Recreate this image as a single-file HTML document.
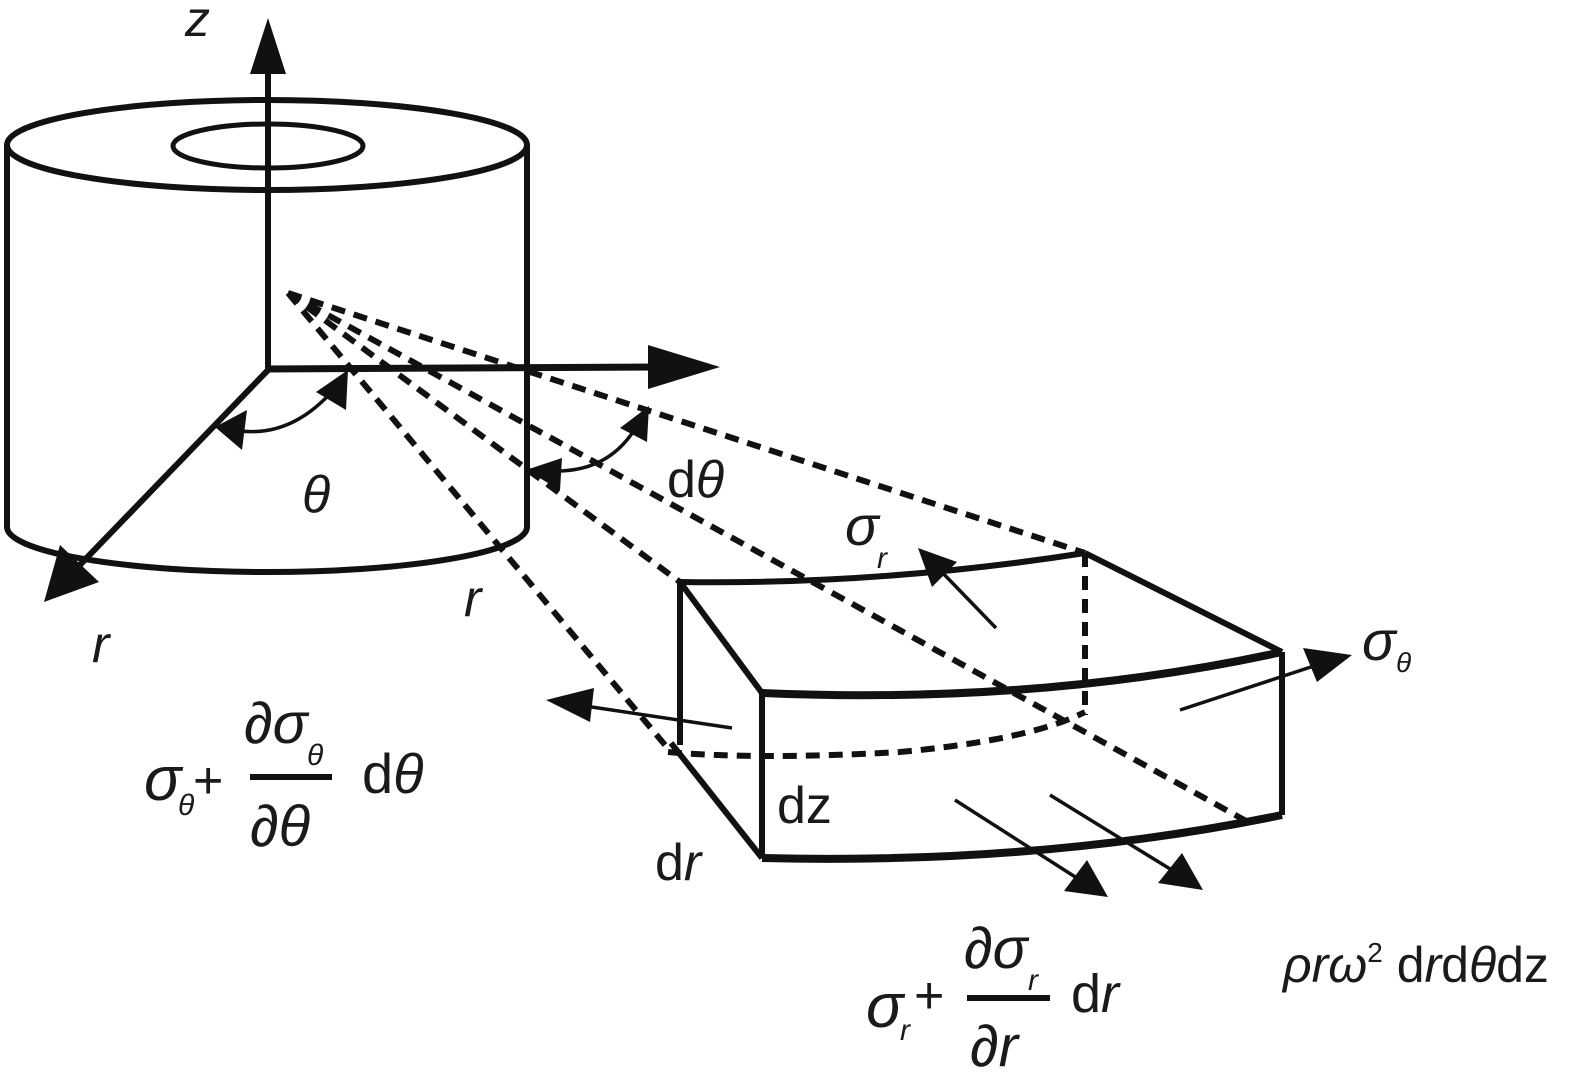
<!DOCTYPE html>
<html><head><meta charset="utf-8"><style>
html,body{margin:0;padding:0;background:#fff;}
svg{display:block;}
text{font-family:"Liberation Sans",sans-serif;fill:#1a1a1a;}
.i{font-style:italic;}
</style></head><body>
<svg width="1583" height="1075" viewBox="0 0 1583 1075" xmlns="http://www.w3.org/2000/svg">
<g fill="none" stroke="#111" stroke-width="6">
<ellipse cx="267" cy="145" rx="260" ry="45"/>
<ellipse cx="268" cy="146" rx="95" ry="22" stroke-width="5"/>
<line x1="7" y1="145" x2="7" y2="527"/>
<line x1="527" y1="145" x2="527" y2="527"/>
<path d="M7 527 A260 45 0 0 0 527 527"/>
<line x1="268" y1="372" x2="268" y2="70"/>
<line x1="265" y1="369" x2="660" y2="367" stroke-width="7"/>
<line x1="270" y1="368" x2="75" y2="570"/>
</g>
<polygon points="268,18 250,74 286,74" fill="#111"/>
<polygon points="720,367 648,345 648,389" fill="#111"/>
<polygon points="44,602 60,545 99,582" fill="#111"/>
<g fill="none" stroke="#111" stroke-width="6" stroke-dasharray="14,9">
<line x1="288" y1="293" x2="1085" y2="553"/>
<line x1="288" y1="293" x2="1248" y2="822"/>
<line x1="288" y1="293" x2="680" y2="582"/>
<line x1="288" y1="293" x2="665" y2="745"/>
<line x1="1085" y1="553" x2="1085" y2="715"/>
<path d="M668 752 Q760 760 900 752 Q1030 740 1085 712"/>
</g>
<g fill="none" stroke="#111" stroke-width="3.5">
<path d="M225 428 Q290 445 340 382"/>
<path d="M540 470 Q610 478 640 420"/>
</g>
<polygon points="215,427 247,410 242,450" fill="#111"/>
<polygon points="348,370 346,410 316,392" fill="#111"/>
<polygon points="526,470 562,458 560,490" fill="#111"/>
<polygon points="649,406 647,442 620,428" fill="#111"/>
<g fill="none" stroke="#111" stroke-width="6" stroke-linejoin="round">
<path d="M680 582 Q880 585 1085 553"/>
<line x1="1085" y1="553" x2="1282" y2="652"/>
<path d="M762 693 Q1040 705 1282 652" stroke-width="8"/>
<line x1="680" y1="582" x2="762" y2="693"/>
<line x1="680" y1="582" x2="680" y2="745"/>
<line x1="671" y1="743" x2="762" y2="858"/>
<line x1="762" y1="693" x2="762" y2="858"/>
<line x1="1282" y1="652" x2="1282" y2="815"/>
<path d="M762 858 Q1040 865 1282 815" stroke-width="8"/>
</g>
<g fill="none" stroke="#111" stroke-width="3.5">
<line x1="996" y1="628" x2="935" y2="565"/>
<line x1="1180" y1="710" x2="1320" y2="664"/>
<line x1="732" y1="728" x2="585" y2="706"/>
<line x1="955" y1="800" x2="1080" y2="880"/>
<line x1="1050" y1="795" x2="1175" y2="872"/>
</g>
<polygon points="918,548 957,562 932,587" fill="#111"/>
<polygon points="1352,655 1303,648 1317,682" fill="#111"/>
<polygon points="546,700 594,688 590,722" fill="#111"/>
<polygon points="1108,897 1087,860 1064,891" fill="#111"/>
<polygon points="1203,890 1182,853 1158,883" fill="#111"/>
<text x="185" y="36" font-size="50" class="i">z</text>
<text x="92" y="662" font-size="52" class="i">r</text>
<text x="464" y="616" font-size="52" class="i">r</text>
<text x="302" y="512" font-size="52" class="i">θ</text>
<text x="667" y="497" font-size="52">d<tspan class="i">θ</tspan></text>
<text x="845" y="545" font-size="56" class="i">σ</text>
<text x="877" y="568" font-size="30" class="i">r</text>
<text x="1362" y="660" font-size="56" class="i">σ</text>
<text x="1396" y="672" font-size="28" class="i">θ</text>
<text x="777" y="823" font-size="52">dz</text>
<text x="655" y="880" font-size="52">d<tspan class="i">r</tspan></text>
<text x="144" y="800" font-size="62" class="i">σ</text>
<text x="178" y="815" font-size="30" class="i">θ</text>
<text x="193" y="798" font-size="52">+</text>
<text x="244" y="743" font-size="58" class="i">∂σ</text>
<text x="307" y="765" font-size="30" class="i">θ</text>
<line x1="250" y1="777" x2="332" y2="777" stroke="#111" stroke-width="6"/>
<text x="250" y="846" font-size="58" class="i">∂θ</text>
<text x="362" y="793" font-size="56">d<tspan class="i">θ</tspan></text>
<text x="866" y="1027" font-size="62" class="i">σ</text>
<text x="900" y="1040" font-size="30" class="i">r</text>
<text x="914" y="1013" font-size="52">+</text>
<text x="964" y="968" font-size="58" class="i">∂σ</text>
<text x="1028" y="990" font-size="30" class="i">r</text>
<line x1="967" y1="998" x2="1050" y2="998" stroke="#111" stroke-width="6"/>
<text x="970" y="1066" font-size="58" class="i">∂r</text>
<text x="1071" y="1012" font-size="54">d<tspan class="i">r</tspan></text>
<text x="1283" y="982" font-size="50"><tspan class="i">ρrω</tspan><tspan font-size="28" dy="-20">2</tspan><tspan dy="20"> d</tspan><tspan class="i">r</tspan>d<tspan class="i">θ</tspan>dz</text>
</svg>
</body></html>
